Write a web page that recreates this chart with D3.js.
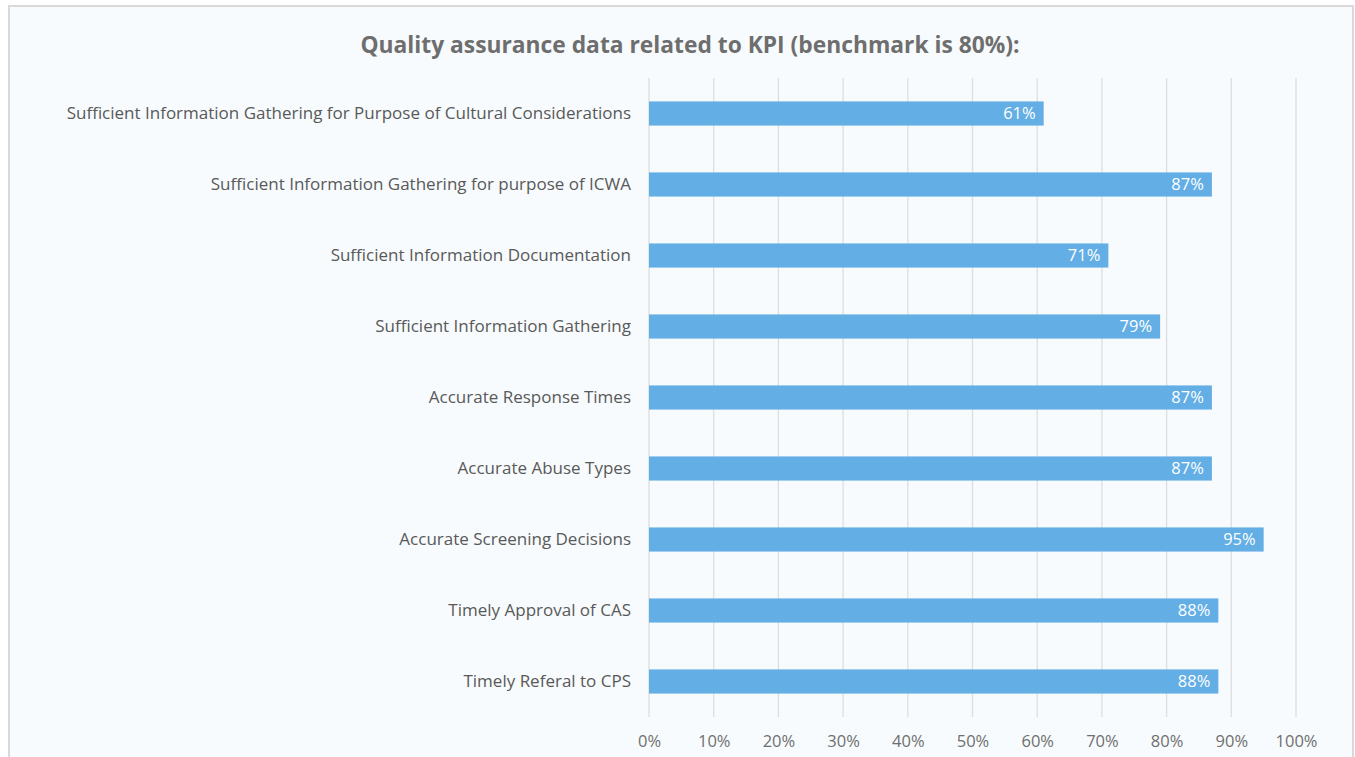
<!DOCTYPE html>
<html>
<head>
<meta charset="utf-8">
<script src="https://cdn.jsdelivr.net/npm/d3@7"></script>
<style>
  body { margin: 0; background: #ffffff; }
  svg { display: block; }
</style>
</head>
<body>
<div id="chart"></div>
<script>
// data
const categories = [
  "Sufficient Information Gathering for Purpose of Cultural Considerations",
  "Sufficient Information Gathering for purpose of ICWA",
  "Sufficient Information Documentation",
  "Sufficient Information Gathering",
  "Accurate Response Times",
  "Accurate Abuse Types",
  "Accurate Screening Decisions",
  "Timely Approval of CAS",
  "Timely Referal to CPS"
];
const values = [0.61, 0.87, 0.71, 0.79, 0.87, 0.87, 0.95, 0.88, 0.88];
const tickValues = [0, 0.1, 0.2, 0.3, 0.4, 0.5, 0.6, 0.7, 0.8, 0.9, 1.0];
const titleText = "Quality assurance data related to KPI (benchmark is 80%):";

const width = 1355, height = 757;
const font = "'Open Sans', sans-serif";

const svg = d3.select("#chart").append("svg")
  .attr("width", width)
  .attr("height", height);

// chart frame
svg.append("rect")
  .attr("x", 9).attr("y", 6)
  .attr("width", 1344).attr("height", 760)
  .attr("fill", "#f7fbfd")
  .attr("stroke", "#d9d9d9")
  .attr("stroke-width", 2);

svg.append("text")
  .attr("x", 690).attr("y", 53)
  .attr("text-anchor", "middle")
  .attr("font-family", font)
  .attr("font-weight", "bold")
  .attr("font-size", "22.8px")
  .attr("fill", "#6e6e6e")
  .text(titleText);

const margin = { top: 78, left: 649, right: 59, bottom: 40 };
const x = d3.scaleLinear().domain([0, 1]).range([margin.left, width - margin.right]);
const y = d3.scaleBand().domain(categories).range([margin.top, 717]).paddingInner(0.66).paddingOuter(0.33);

// gridlines
svg.append("g").selectAll("line")
  .data(tickValues)
  .join("line")
  .attr("x1", d => x(d)).attr("x2", d => x(d))
  .attr("y1", margin.top).attr("y2", 717)
  .attr("stroke", "#dedede")
  .attr("stroke-width", 1.3);

// x axis labels
const xAxis = d3.axisBottom(x).tickValues(tickValues).tickFormat(d3.format(".0%")).tickSize(0).tickPadding(0);
const gx = svg.append("g").attr("transform", "translate(0,735)").call(xAxis);
gx.select(".domain").remove();
gx.selectAll("text")
  .attr("font-family", font)
  .attr("font-size", "16.5px")
  .attr("fill", "#6f6f6f");

// category labels
const yAxis = d3.axisLeft(y).tickSize(0).tickPadding(18);
const gy = svg.append("g").attr("transform", `translate(${margin.left},0)`).call(yAxis);
gy.select(".domain").remove();
gy.selectAll("text")
  .attr("font-family", font)
  .attr("font-size", "17px")
  .attr("fill", "#595959");

// bars
const rows = categories.map((c, i) => ({ name: c, value: values[i] }));
svg.append("g").selectAll("rect")
  .data(rows)
  .join("rect")
  .attr("x", x(0))
  .attr("y", d => y(d.name))
  .attr("width", d => x(d.value) - x(0))
  .attr("height", y.bandwidth())
  .attr("fill", "#62aee5");

// value labels
svg.append("g").selectAll("text")
  .data(rows)
  .join("text")
  .attr("x", d => x(d.value) - 8)
  .attr("y", d => y(d.name) + y.bandwidth() / 2)
  .attr("dy", "0.36em")
  .attr("text-anchor", "end")
  .attr("font-family", font)
  .attr("font-size", "16.5px")
  .attr("fill", "#ffffff")
  .text(d => d3.format(".0%")(d.value));
</script>
</body>
</html>
